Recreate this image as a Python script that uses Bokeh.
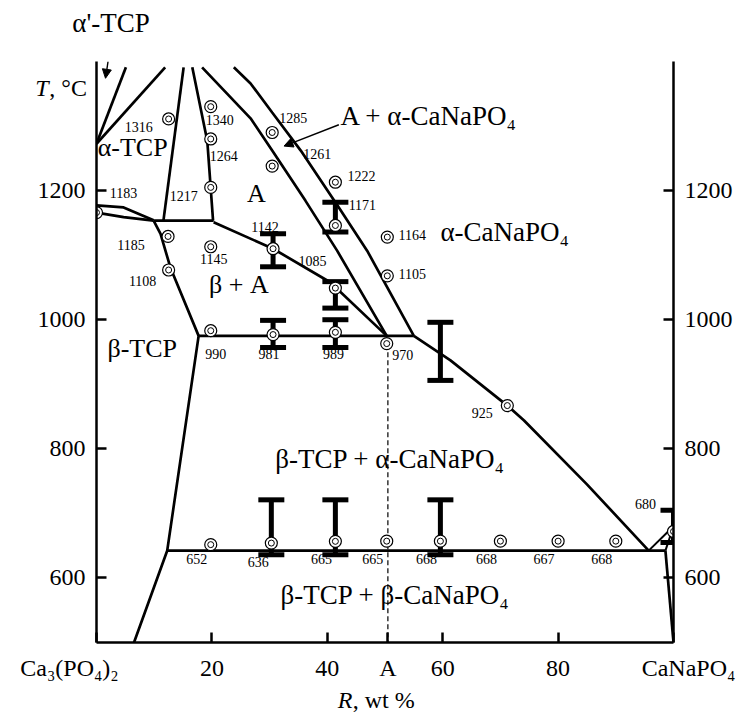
from bokeh.plotting import figure
from bokeh.models import (Range1d, LinearAxis, FixedTicker, Label, Arrow,
                          NormalHead, ColumnDataSource)
from bokeh.embed import file_html
from bokeh.resources import INLINE
from bokeh.core.properties import value

SERIF = "Liberation Serif"
NB = "\u00a0"

# ---------------- data ----------------
x_ticks = [0, 20, 40, 50.5, 60, 80, 100]
x_tick_labels = {0: "Ca₃(PO₄)₂" + NB * 9, 50.5: "A", 100: NB * 5 + "CaNaPO₄"}
t_ticks = [600, 800, 1000, 1200]

# phase boundaries: composition R (wt %) and temperature T (deg C)
ap1_R = [0.0, 5.1];   ap1_T = [1272.5, 1391]
ap2_R = [0.0, 11.9];  ap2_T = [1272.5, 1391]
wedgeL_R = [15.1, 11.6];        wedgeL_T = [1391, 1153.5]
wedgeR_R = [16.6, 19.2, 20.2];  wedgeR_T = [1391, 1277, 1153.5]
lensU_R = [0.0, 4.7, 9.9];      lensU_T = [1177, 1174, 1154]
lensL_R = [0.0, 4.7, 9.9];      lensL_T = [1166, 1159, 1153.5]
h1153_R = [9.9, 20.3];          h1153_T = [1153.5, 1153.5]
btcp_R = [9.9, 11.1, 12.8, 17.7, 12.25, 6.5]
btcp_T = [1153.5, 1133, 1081, 975, 642, 500]
bA_R = [20.3, 30.6, 40.5, 50.3];  bA_T = [1151, 1110, 1058, 975]
h975_R = [17.7, 55.0];            h975_T = [975, 975]
inner_R = [18.3, 26.7, 30.45, 36.2, 41.7, 50.3]
inner_T = [1391, 1312, 1262, 1184.5, 1107, 975]
outer_R = [23.8, 26.7, 30.45, 35.4, 42.0, 46.9, 55.0]
outer_T = [1391, 1366, 1321, 1262, 1174, 1107, 975]
liq_R = [55.0, 61.35, 71.2, 74.1, 85.0, 95.7]
liq_T = [975, 937, 867, 844, 745, 642.3]
h642_R = [12.25, 98.6];  h642_T = [642.3, 642.3]
aab_R = [95.7, 100.0];   aab_T = [642.3, 680]
bab_R = [98.6, 100.0];   bab_T = [642.3, 680]
right_R = [98.6, 100.0]; right_T = [642.3, 500]
dashA_R = [50.5, 50.5];  dashA_T = [962, 500]

# experimental points
pt_R = [0, 12.5, 19.8, 19.8, 19.8, 30.45, 30.45, 41.4, 41.4, 50.4, 50.4,
        12.4, 19.8, 12.5, 19.8, 30.6, 30.6, 41.4, 41.4, 50.3, 71.2,
        19.8, 30.3, 41.4, 50.3, 59.6, 70.0, 80.0, 90.0, 100.0]
pt_T = [1166, 1311, 1330, 1280, 1205, 1290, 1238, 1213, 1146, 1128, 1068,
        1129, 1113, 1077, 983, 1110, 977, 1049, 980.5, 963, 867,
        651.6, 654, 656.7, 657, 657, 657, 657, 657, 672]
pt_label = ["1183", "1316", "1340", "1264", "1217", "1285", "1261", "1222",
            "1171", "1164", "1105", "1185", "1145", "1108", "990", "1142",
            "981", "1085", "989", "970", "925",
            "652", "636", "665", "665", "668", "668", "667", "668", "680"]

# error bars
eb_R = [30.6, 30.6, 41.4, 41.4, 41.4, 59.6, 30.3, 41.4, 59.6, 100.0]
eb_lo = [1082, 957, 1136, 1018, 957, 906, 636, 636, 636, 655]
eb_hi = [1133, 999, 1182, 1059, 1000, 996, 721, 721, 721, 705]

# label placement (screen px offsets of the value labels from their points)
lab_dx = [27, -30, 9, 13, -27, 21, 45, 26, 27, 25, 25, -37, 3, -26, 5, -8,
          -4, -23, -2, 16, -25, -14, -13, -14, -14, -14, -14, -14, -14, -28]
lab_dy = [-20, 8, 13, 17, 9, -15, -12, -6, -20, -2, -2, 9, 12, 11, 23, -22,
          19, -27, 22, 11, 7, 14, 19, 18, 18, 18, 18, 18, 18, -27]

# ---------------- figure ----------------
p = figure(width=745, height=715, x_range=Range1d(0, 100),
           y_range=Range1d(500, 1400), output_backend="svg",
           toolbar_location=None, min_border_left=96, min_border_right=72,
           min_border_top=61, min_border_bottom=73)
p.title.visible = False
p.grid.visible = False
p.outline_line_color = None
p.background_fill_color = "white"
p.border_fill_color = "white"


def style_axis(ax, ticks, standoff):
    ax.ticker = FixedTicker(ticks=ticks)
    ax.major_tick_in = 10
    ax.major_tick_out = 0
    ax.minor_tick_line_color = None
    ax.axis_line_width = 2.5
    ax.axis_line_color = "black"
    ax.major_tick_line_width = 2.5
    ax.major_tick_line_color = "black"
    ax.major_label_text_font = SERIF
    ax.major_label_text_font_size = "24px"
    ax.major_label_text_color = "black"
    ax.major_label_standoff = standoff


style_axis(p.xaxis[0], x_ticks, 12)
p.xaxis[0].major_label_overrides = x_tick_labels
style_axis(p.yaxis[0], t_ticks, 11)
raxis = LinearAxis()
style_axis(raxis, t_ticks, 11)
p.add_layout(raxis, "right")

LW = 2.7
for R, T in [(ap1_R, ap1_T), (ap2_R, ap2_T), (wedgeL_R, wedgeL_T),
             (wedgeR_R, wedgeR_T), (lensU_R, lensU_T), (lensL_R, lensL_T),
             (h1153_R, h1153_T), (btcp_R, btcp_T), (bA_R, bA_T),
             (h975_R, h975_T), (inner_R, inner_T), (outer_R, outer_T),
             (liq_R, liq_T), (h642_R, h642_T), (right_R, right_T)]:
    p.line(R, T, line_color="black", line_width=LW)
for R, T in [(aab_R, aab_T), (bab_R, bab_T)]:
    p.line(R, T, line_color="black", line_width=2)

p.line(dashA_R, dashA_T, line_color="black", line_width=1.2, line_dash="5 3")

# error bars
ebs = ColumnDataSource(dict(x=eb_R, lo=eb_lo, hi=eb_hi))
p.segment(x0="x", y0="lo", x1="x", y1="hi", source=ebs,
          line_color="black", line_width=5)
p.scatter(x="x", y="lo", source=ebs, marker="dash", size=26,
          line_color="black", line_width=5)
p.scatter(x="x", y="hi", source=ebs, marker="dash", size=26,
          line_color="black", line_width=5)

# points (double circles)
pts = ColumnDataSource(dict(x=pt_R, y=pt_T, lab=pt_label, dx=lab_dx, dy=lab_dy))
p.scatter(x="x", y="y", source=pts, marker="circle", size=12,
          fill_color="white", line_color="black", line_width=1.2)
p.scatter(x="x", y="y", source=pts, marker="circle", size=6,
          fill_color=None, line_color="black", line_width=1.0)
p.text(x="x", y="y", text="lab", source=pts, x_offset="dx", y_offset="dy",
       text_font=value(SERIF), text_font_size="14px", text_align="center",
       text_baseline="middle", text_color="black")

BASE_FIX = 14  # label baseline correction, in degrees (about 9 px)


def lab(x, y, text, size="26px", align="left", style="normal", xo=0,
        place="center"):
    p.add_layout(Label(x=x, y=y + BASE_FIX, text=text, text_font=SERIF,
                       text_font_size=size, text_align=align,
                       text_baseline="alphabetic", text_font_style=style,
                       text_color="black", x_offset=xo), place)


# region labels
lab(0.2, 1253, "α-TCP")
lab(27.7, 1182, "A", align="center")
lab(42.3, 1301, "A + α-CaNaPO₄", size="27px")
lab(59.6, 1122, "α-CaNaPO₄", size="27px")
lab(19.5, 1040, "β + A")
lab(1.9, 942, "β-TCP")
lab(31.0, 770, "β-TCP + α-CaNaPO₄", size="27px")
lab(31.9, 560, "β-TCP + β-CaNaPO₄", size="27px")

# texts outside the frame (placed in side panels so they are not clipped)
lab(-4.2, 1446, "α'-TCP", size="27px", place="above")
lab(-10.6, 1345, "T", style="italic", size="24px", place="left")
lab(-10.6, 1345, ", °C", size="24px", xo=14, place="above")
lab(41.8, 397, "R", style="italic", size="24px", place="left")
lab(41.8, 397, ", wt %", size="24px", xo=15, place="below")

p.add_layout(Arrow(end=NormalHead(size=9, fill_color="black", line_color="black"),
                   x_start=2.0, y_start=1400, x_end=1.56, y_end=1374,
                   line_width=1.4, line_color="black"))
p.add_layout(Arrow(end=NormalHead(size=9, fill_color="black", line_color="black"),
                   x_start=42.0, y_start=1302, x_end=32.5, y_end=1269,
                   line_width=1.4, line_color="black"))

open("out.html", "w").write(file_html(p, INLINE))
